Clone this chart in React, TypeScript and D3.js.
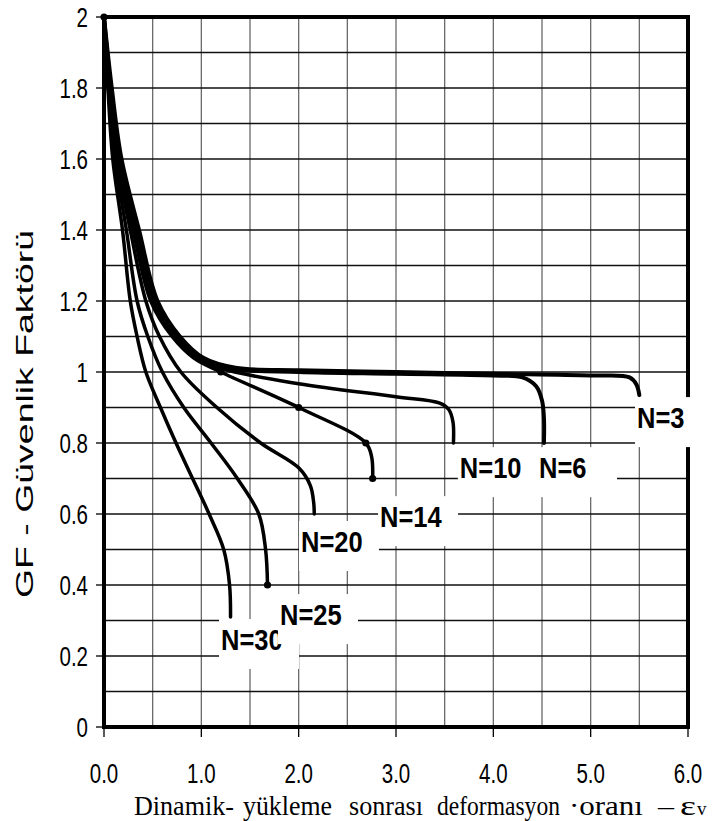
import React from 'react';
import * as d3 from 'd3';

type Pt = [number, number];

// curves, one per number of cycles N
const n3: Pt[] = [[0, 2], [0.08, 1.8], [0.18, 1.6], [0.36, 1.4], [0.55, 1.2], [0.78, 1.1], [1.02, 1.04], [1.35, 1.012], [2.0, 1.005], [3.0, 1.0], [4.0, 0.995], [5.0, 0.99], [5.4, 0.985], [5.47, 0.965], [5.5, 0.935]];
const n6: Pt[] = [[0, 2], [0.07, 1.8], [0.17, 1.6], [0.34, 1.4], [0.52, 1.2], [0.75, 1.1], [1.0, 1.04], [1.3, 1.01], [2.0, 1.0], [3.0, 0.995], [4.0, 0.99], [4.3, 0.985], [4.44, 0.96], [4.5, 0.92], [4.52, 0.87], [4.52, 0.8]];
const n10: Pt[] = [[0, 2], [0.06, 1.8], [0.16, 1.6], [0.32, 1.4], [0.5, 1.2], [0.73, 1.1], [0.95, 1.04], [1.2, 1.01], [2.0, 0.967], [3.0, 0.93], [3.45, 0.912], [3.54, 0.895], [3.585, 0.86], [3.59, 0.8]];
const n14: Pt[] = [[0, 2], [0.06, 1.8], [0.15, 1.6], [0.3, 1.4], [0.48, 1.2], [0.7, 1.1], [0.92, 1.04], [1.2, 1.0], [2.0, 0.9], [2.69, 0.8], [2.75, 0.76], [2.76, 0.7]];
const n20: Pt[] = [[0, 2], [0.05, 1.8], [0.13, 1.6], [0.27, 1.4], [0.43, 1.2], [0.57, 1.1], [0.79, 1.0], [1.16, 0.9], [1.61, 0.8], [2.0, 0.73], [2.12, 0.68], [2.155, 0.63], [2.16, 0.6]];
const n25: Pt[] = [[0, 2], [0.045, 1.8], [0.11, 1.6], [0.23, 1.4], [0.34, 1.2], [0.45, 1.1], [0.6, 1.0], [0.82, 0.9], [1.1, 0.8], [1.37, 0.7], [1.59, 0.6], [1.66, 0.5], [1.68, 0.4]];
const n30: Pt[] = [[0, 2], [0.04, 1.8], [0.09, 1.6], [0.19, 1.4], [0.27, 1.2], [0.34, 1.1], [0.43, 1.0], [0.58, 0.9], [0.74, 0.8], [0.91, 0.7], [1.08, 0.6], [1.23, 0.5], [1.29, 0.4], [1.3, 0.31]];

const seriesNames = ['N=3', 'N=6', 'N=10', 'N=14', 'N=20', 'N=25', 'N=30'];
const seriesValues = [n3, n6, n10, n14, n20, n25, n30];

// points that carry a visible marker in the original
const markerPoints: Pt[] = [[0, 2], [1.2, 1.0], [2.0, 0.9], [2.69, 0.8], [2.76, 0.7], [1.68, 0.4]];

// data labels (left edge / baseline, in data units), drawn in this order
const labelNames = ['N=3', 'N=6', 'N=10', 'N=14', 'N=20', 'N=30', 'N=25'];
const labelAnchors: Pt[] = [[5.476, 0.842], [4.469, 0.701], [3.656, 0.701], [2.836, 0.563], [2.024, 0.493], [1.202, 0.217], [1.808, 0.287]];

const xTicks = [0, 1, 2, 3, 4, 5, 6];
const yTicks = [0, 0.2, 0.4, 0.6, 0.8, 1, 1.2, 1.4, 1.6, 1.8, 2];

const yTitle = 'GF - Güvenlik Faktörü';
const xTitleWords = ['Dinamik-', 'yükleme', 'sonrası', 'deformasyon', '·oranı', '–', 'ε'];
const xTitleSpans: Pt[] = [[134, 234], [243, 332], [349, 423], [437, 560], [569, 643], [658, 674], [680, 696]];

const W = 723;
const H = 821;

const serif = 'Liberation Serif, Times New Roman, serif';
const sans = 'Liberation Sans, Arial, sans-serif';

// natural width of a word, so it can be squeezed into its span with a plain scale
let measureCtx: CanvasRenderingContext2D | null = null;
const measure = (s: string, size: number) => {
  if (!measureCtx) measureCtx = document.createElement('canvas').getContext('2d');
  if (!measureCtx) return s.length * size * 0.45;
  measureCtx.font = `${size}px ${serif}`;
  return measureCtx.measureText(s).width || s.length * size * 0.45;
};

const App: React.FC = () => {
  const x = d3.scaleLinear().domain([0, 6]).range([104, 688]);
  const y = d3.scaleLinear().domain([0, 2]).range([727, 17]);

  const line = d3.line<Pt>()
    .x(d => x(d[0]))
    .y(d => y(d[1]))
    .curve(d3.curveCatmullRom.alpha(0.5));

  const vGrid = d3.range(1, 12).map(i => i * 0.5);
  const hGrid = d3.range(1, 20).map(i => i / 10);

  return (
    <svg width={W} height={H} style={{ position: 'absolute', left: 0, top: 0, background: '#fff' }}>
      <rect x={0} y={0} width={W} height={H} fill="#fff" />

      {/* grid */}
      {vGrid.map(v => (
        <line key={'v' + v} x1={x(v)} x2={x(v)} y1={y(0)} y2={y(2)} stroke="#6a6a6a" strokeWidth={1.3} />
      ))}
      {hGrid.map(v => (
        <line key={'h' + v} x1={x(0)} x2={x(6)} y1={y(v)} y2={y(v)} stroke="#111" strokeWidth={1.3} />
      ))}

      {/* curves */}
      {seriesValues.map((s, i) => (
        <path key={seriesNames[i]} d={line(s) || ''} fill="none" stroke="#000"
          strokeWidth={i < 2 ? 4 : 3.5} strokeLinejoin="round" strokeLinecap="round" />
      ))}
      {markerPoints.map((p, i) => (
        <circle key={'m' + i} cx={x(p[0])} cy={y(p[1])} r={3.6} fill="#000" />
      ))}

      {/* frame and ticks */}
      <rect x={x(0)} y={y(2)} width={x(6) - x(0)} height={y(0) - y(2)} fill="none" stroke="#000" strokeWidth={4} />
      {yTicks.map(v => (
        <g key={'yt' + v}>
          <line x1={x(0) - 8} x2={x(0)} y1={y(v)} y2={y(v)} stroke="#000" strokeWidth={1.3} />
          <text transform={`translate(88,${y(v) + 9.5}) scale(0.76,1)`} textAnchor="end"
            fontFamily={sans} fontSize={27} fill="#000">{String(+v.toFixed(1))}</text>
        </g>
      ))}
      {xTicks.map(v => (
        <g key={'xt' + v}>
          <line x1={x(v)} x2={x(v)} y1={y(0)} y2={y(0) + 10} stroke="#000" strokeWidth={1.3} />
          <text transform={`translate(${x(v)},783) scale(0.76,1)`} textAnchor="middle"
            fontFamily={sans} fontSize={27} fill="#000">{d3.format('.1f')(v)}</text>
        </g>
      ))}

      {/* data labels with white boxes */}
      {labelNames.map((name, i) => {
        const lx = x(labelAnchors[i][0]);
        const ly = y(labelAnchors[i][1]);
        return (
          <g key={'l' + name}>
            <rect x={lx - 2} y={ly - 31} width={80} height={50} fill="#fff" />
            <text transform={`translate(${lx},${ly}) scale(0.85,1)`} fontFamily={sans}
              fontWeight="bold" fontSize={30} fill="#000">{name}</text>
          </g>
        );
      })}

      {/* axis titles */}
      <text transform="translate(33,414) rotate(-90)" textAnchor="middle" fontFamily={sans}
        fontSize={24} fill="#000" textLength={368} lengthAdjust="spacingAndGlyphs">{yTitle}</text>
      {xTitleWords.map((w, i) => {
        const span = xTitleSpans[i][1] - xTitleSpans[i][0];
        const sx = span / measure(w, 28);
        return (
          <text key={'xw' + i} transform={`translate(${xTitleSpans[i][0]},815) scale(${sx},1)`}
            fontFamily={serif} fontSize={28} fill="#000">{w}</text>
        );
      })}
      <text x={697} y={815} fontFamily={serif} fontSize={19} fill="#000">v</text>
    </svg>
  );
};

export default App;
